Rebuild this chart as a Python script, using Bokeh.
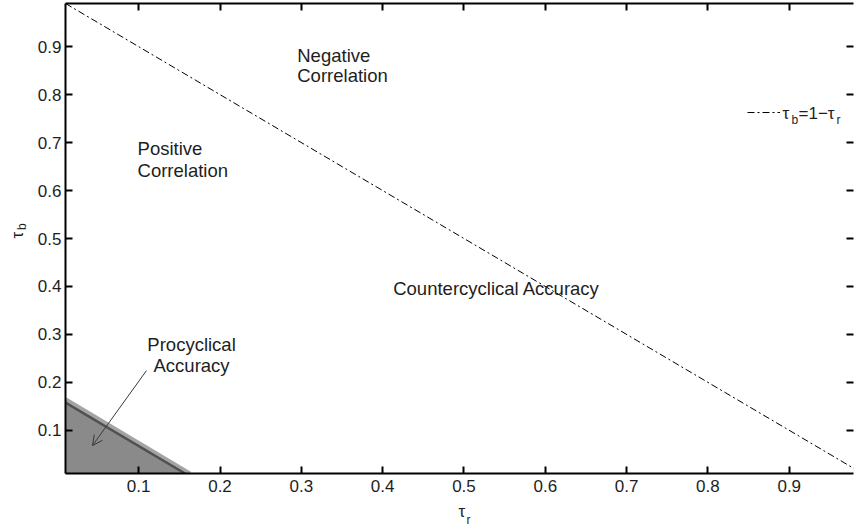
from bokeh.plotting import figure
from bokeh.layouts import row, column
from bokeh.models import (Range1d, LinearAxis, FixedTicker, Label, Arrow, OpenHead,
                          Legend, LegendItem, CustomJSTickFormatter)
from bokeh.core.properties import value
from bokeh.embed import file_html
from bokeh.resources import INLINE
import math

# ---------------- data ----------------
tick_values = [0.1, 0.2, 0.3, 0.4, 0.5, 0.6, 0.7, 0.8, 0.9]
tick_labels = ["0.1", "0.2", "0.3", "0.4", "0.5", "0.6", "0.7", "0.8", "0.9"]

# boundary tau_b = 1 - tau_r
bound_r = [0.01, 0.99]
bound_b = [0.99, 0.01]

# procyclical accuracy region (shaded)
proc_fill_r = [0.01, 0.01, 0.157]
proc_fill_b = [0.01, 0.158, 0.01]
proc_edge_r = [0.01, 0.157]
proc_edge_b = [0.158, 0.01]
proc_halo_r = [0.01, 0.163]
proc_halo_b = [0.165, 0.01]

# arrow for "Procyclical Accuracy"
arrow_start = (0.1096, 0.2246)
arrow_end = (0.0432, 0.0683)

# region annotations: (text, x, y, align)
annotations = [
    ("Negative", 0.295, 0.881, "left"),
    ("Correlation", 0.295, 0.839, "left"),
    ("Positive", 0.0986, 0.687, "left"),
    ("Correlation", 0.0986, 0.641, "left"),
    ("Countercyclical  Accuracy", 0.413, 0.395, "left"),
    ("Procyclical", 0.165, 0.279, "center"),
    ("Accuracy", 0.165, 0.235, "center"),
]

FONT = "Liberation Sans"
TXT = "#1e1e1e"

LEFT_W = 28
MAIN_H = 500

p = figure(frame_width=788, frame_height=470,
           x_range=Range1d(0.01, 0.979), y_range=Range1d(0.01, 0.99),
           output_backend="svg", toolbar_location=None,
           min_border_left=65 - LEFT_W, min_border_right=2, min_border_top=3,
           min_border_bottom=MAIN_H - 473)
p.outline_line_color = None
p.xgrid.visible = False
p.ygrid.visible = False
p.background_fill_color = "white"
p.border_fill_color = "white"


def style_axis(ax, labels=True, standoff=5, line=True):
    ax.ticker = FixedTicker(ticks=tick_values)
    ax.major_tick_in = 7
    ax.major_tick_out = 0
    ax.minor_tick_line_color = None
    ax.axis_line_width = 2
    ax.axis_line_color = "black" if line else None
    ax.major_tick_line_width = 2
    ax.major_tick_line_color = "black"
    ax.major_label_text_font = FONT
    ax.major_label_text_font_size = "17px"
    ax.major_label_text_color = TXT
    ax.major_label_standoff = standoff
    if labels:
        ax.major_label_overrides = {v: s for v, s in zip(tick_values, tick_labels)}
    else:
        ax.formatter = CustomJSTickFormatter(code="return ''")
        ax.major_label_standoff = 0


style_axis(p.xaxis[0], standoff=6)
style_axis(p.yaxis[0], standoff=4)
top = LinearAxis()
style_axis(top, labels=False)
p.add_layout(top, "above")
right = LinearAxis()
style_axis(right, labels=False, line=False)
p.add_layout(right, "right")

# shaded procyclical region
p.patch(proc_fill_r, proc_fill_b, fill_color="#8a8a8a", line_color=None)
p.line(proc_halo_r, proc_halo_b, line_color="#a4a4a4", line_width=4)
p.line(proc_edge_r, proc_edge_b, line_color="#505050", line_width=2.5)

# boundary line
bl = p.line(bound_r, bound_b, line_color="black", line_width=1, line_dash="7 3 2 3")

# arrow
p.add_layout(Arrow(end=OpenHead(size=10, line_color="#3a3a3a", line_width=1),
                   x_start=arrow_start[0], y_start=arrow_start[1],
                   x_end=arrow_end[0], y_end=arrow_end[1],
                   line_color="#3a3a3a", line_width=1))

for txt, x, y, al in annotations:
    p.add_layout(Label(x=x, y=y, text=txt, text_font=FONT, text_font_size="18.5px",
                       text_color=TXT, text_align=al, text_baseline="alphabetic"))

# legend sample line (frame-relative screen position)
leg = Legend(items=[LegendItem(label=" ", renderers=[bl])],
             location=(682, 356), glyph_width=33, glyph_height=10,
             label_height=10, label_text_font_size="1px", label_standoff=0,
             padding=0, margin=0, spacing=0, border_line_color=None,
             background_fill_alpha=0)
p.add_layout(leg, "center")


def slabel(text, sx, sy, size):
    # sx, sy: pixels from the frame's bottom-left corner
    p.add_layout(Label(x=sx, y=sy, x_units="screen", y_units="screen", text=text,
                       text_font=FONT, text_font_size=size, text_color=TXT,
                       text_baseline="alphabetic"))


slabel("τ", 717, 360, "17px")
slabel("b", 726, 354, "12px")
slabel("=1−τ", 733, 360, "17px")
slabel("r", 771, 354, "12px")


def text_panel(w, h):
    f = figure(width=w, height=h, x_range=Range1d(0, w), y_range=Range1d(0, h),
               output_backend="svg", toolbar_location=None, min_border=0,
               x_axis_location=None, y_axis_location=None)
    f.outline_line_color = None
    f.xgrid.visible = False
    f.ygrid.visible = False
    f.border_fill_color = "white"
    return f


# y-axis label panel (tau_b, rotated)
yl = text_panel(LEFT_W, MAIN_H)
yl.text(x=[17], y=[MAIN_H - 250], text=["τ"], angle=math.pi / 2,
        text_font=value(FONT), text_font_size="17px", text_color=TXT,
        text_align="left", text_baseline="alphabetic")
yl.text(x=[21], y=[MAIN_H - 241], text=["b"], angle=math.pi / 2,
        text_font=value(FONT), text_font_size="12px", text_color=TXT,
        text_align="left", text_baseline="alphabetic")

# x-axis label panel (tau_r)
XL_H = 527 - MAIN_H
xl = text_panel(857, XL_H)
xl.text(x=[458], y=[XL_H - 11], text=["τ"], text_font=value(FONT),
        text_font_size="17px", text_color=TXT, text_align="left",
        text_baseline="alphabetic")
xl.text(x=[466], y=[XL_H - 19], text=["r"], text_font=value(FONT),
        text_font_size="12px", text_color=TXT, text_align="left",
        text_baseline="alphabetic")

layout = column(row(yl, p), xl)
open("out.html", "w").write(file_html(layout, INLINE))
